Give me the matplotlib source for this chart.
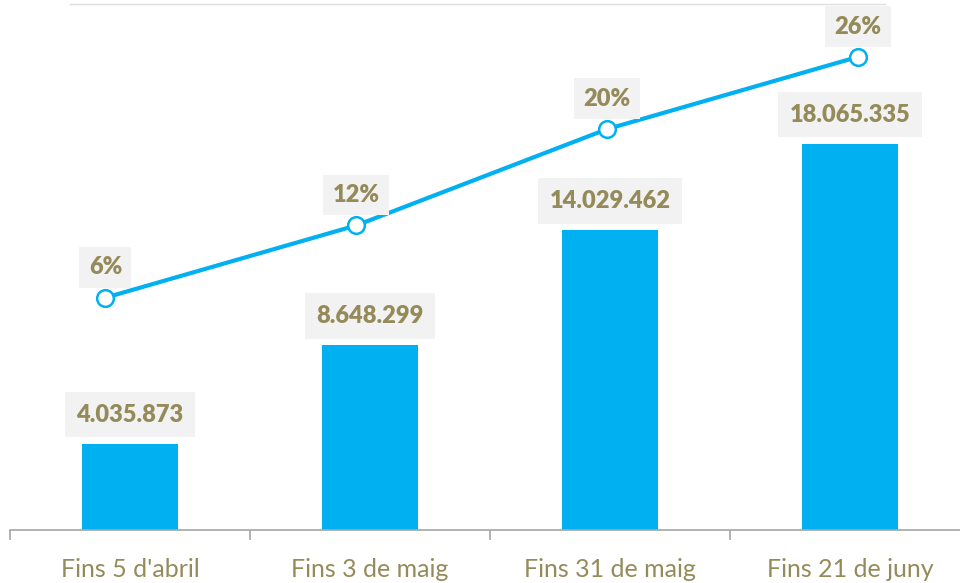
import matplotlib
matplotlib.use("Agg")
import matplotlib.pyplot as plt
import numpy as np

categories = ["Fins 5 d'abril", "Fins 3 de maig", "Fins 31 de maig", "Fins 21 de juny"]
totals = [4035873, 8648299, 14029462, 18065335]
percents = [6, 12, 20, 26]

blue = '#00B0F0'
olive = '#958B5A'
box_grey = '#F2F2F2'

plt.rcParams['font.family'] = ['Lato', 'DejaVu Sans']


def dots(n):
    return f'{n:,}'.replace(',', '.')


fig = plt.figure(figsize=(9.6, 5.83), dpi=100)
W, H = 960.0, 583.0

# primary axes: bars
ax = fig.add_axes([10 / W, 53 / H, 960 / W, 526 / H])
x = np.arange(len(categories))
ax.bar(x, [t / 1e6 for t in totals], width=0.4, color=blue, zorder=2)
ax.set_xlim(-0.5, 3.5)
ax.set_ylim(0, 24.6)
for s in ['top', 'right', 'left']:
    ax.spines[s].set_visible(False)
ax.spines['bottom'].set_color('#A6A6A6')
ax.spines['bottom'].set_linewidth(1.2)
ax.set_yticks([])
ax.set_xticks(x)
ax.set_xticklabels(categories, fontsize=18, color=olive)
ax.tick_params(axis='x', which='major', length=0, pad=20)
ax.set_xticks(np.arange(-0.5, 4, 1), minor=True)
ax.tick_params(axis='x', which='minor', length=7, width=1.2, color='#A6A6A6')
ax.axhline(24.6, xmin=60 / 960, xmax=875 / 960, color='#E0E0E0', lw=1, clip_on=False)

for xi, t in zip(x, totals):
    ax.annotate(dots(t), (xi, t / 1e6), xytext=(0, 13), textcoords='offset points',
                ha='center', va='bottom', fontsize=17, fontweight='heavy', color=olive,
                bbox=dict(boxstyle='square,pad=0.5', fc=box_grey, ec='none'), zorder=3)

# secondary axes: percentage line, sits on its own category scale
ax2 = fig.add_axes([-20 / W, 53 / H, 1003 / W, 526 / H])
ax2.patch.set_alpha(0)
ax2.plot(x, percents, color=blue, lw=3, marker='o', ms=12, mfc='white',
         mec=blue, mew=1.8, zorder=4, clip_on=False)
ax2.set_xlim(-0.5, 3.5)
ax2.set_ylim(-13.3, 30.4)
ax2.axis('off')

for xi, p in zip(x, percents):
    ax2.annotate(f'{p}%', (xi, p), xytext=(0, 14), textcoords='offset points',
                 ha='center', va='bottom', fontsize=17, fontweight='heavy', color=olive,
                 bbox=dict(boxstyle='square,pad=0.4', fc=box_grey, ec='none'), zorder=5)

fig.savefig('out.png', dpi=100)
